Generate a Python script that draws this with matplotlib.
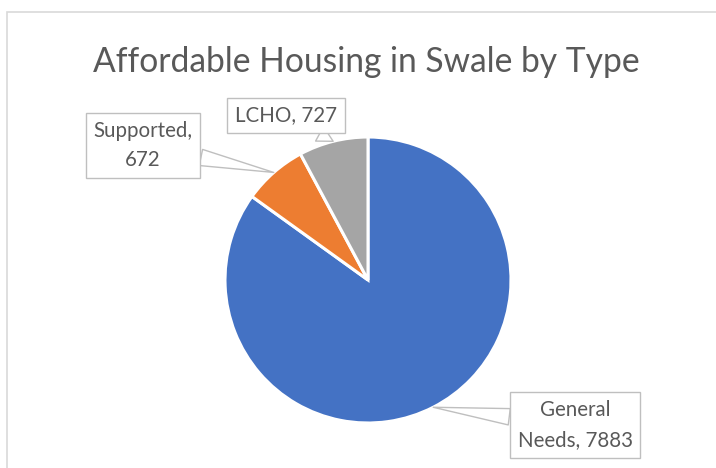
import matplotlib.pyplot as plt
import matplotlib.patches as mpatches
import numpy as np

labels = ['General Needs', 'Supported', 'LCHO']
values = [7883, 672, 727]
colors = ['#4472C4', '#ED7D31', '#A5A5A5']
label_texts = ['General\nNeeds, 7883', 'Supported,\n672', 'LCHO, 727']
# where each callout box sits (data units, pie radius = 1)
label_pos = [(1.448, -1.014), (-1.573, 0.94), (-0.573, 1.15)]

plt.rcParams['font.family'] = ['Lato', 'DejaVu Sans']

fig = plt.figure(figsize=(7.16, 4.68), dpi=100)

# chart area border
fig.patches.append(mpatches.Rectangle((7.5 / 716, -0.1), 2, (468 - 11.5) / 468 + 0.1,
                                      transform=fig.transFigure, fill=False,
                                      ec='#D9D9D9', lw=1.2))

fig.text(0.512, 0.868, 'Affordable Housing in Swale by Type', ha='center', va='center',
         fontsize=24.2, color='#595959')

ax = fig.add_axes([225 / 716, 45 / 468, 286 / 716, 286 / 468])
wedges, _ = ax.pie(values, colors=colors, startangle=90, counterclock=False,
                   wedgeprops=dict(edgecolor='white', linewidth=2.2))
ax.set_xlim(-1, 1)
ax.set_ylim(-1, 1)
ax.set_aspect('equal')
ax.axis('off')

for w, txt, pos in zip(wedges, label_texts, label_pos):
    mid = np.deg2rad((w.theta1 + w.theta2) / 2)
    tip = (np.cos(mid), np.sin(mid))
    ax.annotate(txt, xy=tip, xytext=pos, ha='center', va='center', fontsize=14.8,
                color='#595959', linespacing=1.6, annotation_clip=False,
                bbox=dict(boxstyle='square,pad=0.38', fc='white', ec='#BFBFBF', lw=1),
                arrowprops=dict(arrowstyle='wedge,tail_width=0.8,shrink_factor=0.5',
                                fc='white', ec='#BFBFBF', lw=1,
                                shrinkA=0, shrinkB=0))

fig.savefig('out.png', dpi=100)
